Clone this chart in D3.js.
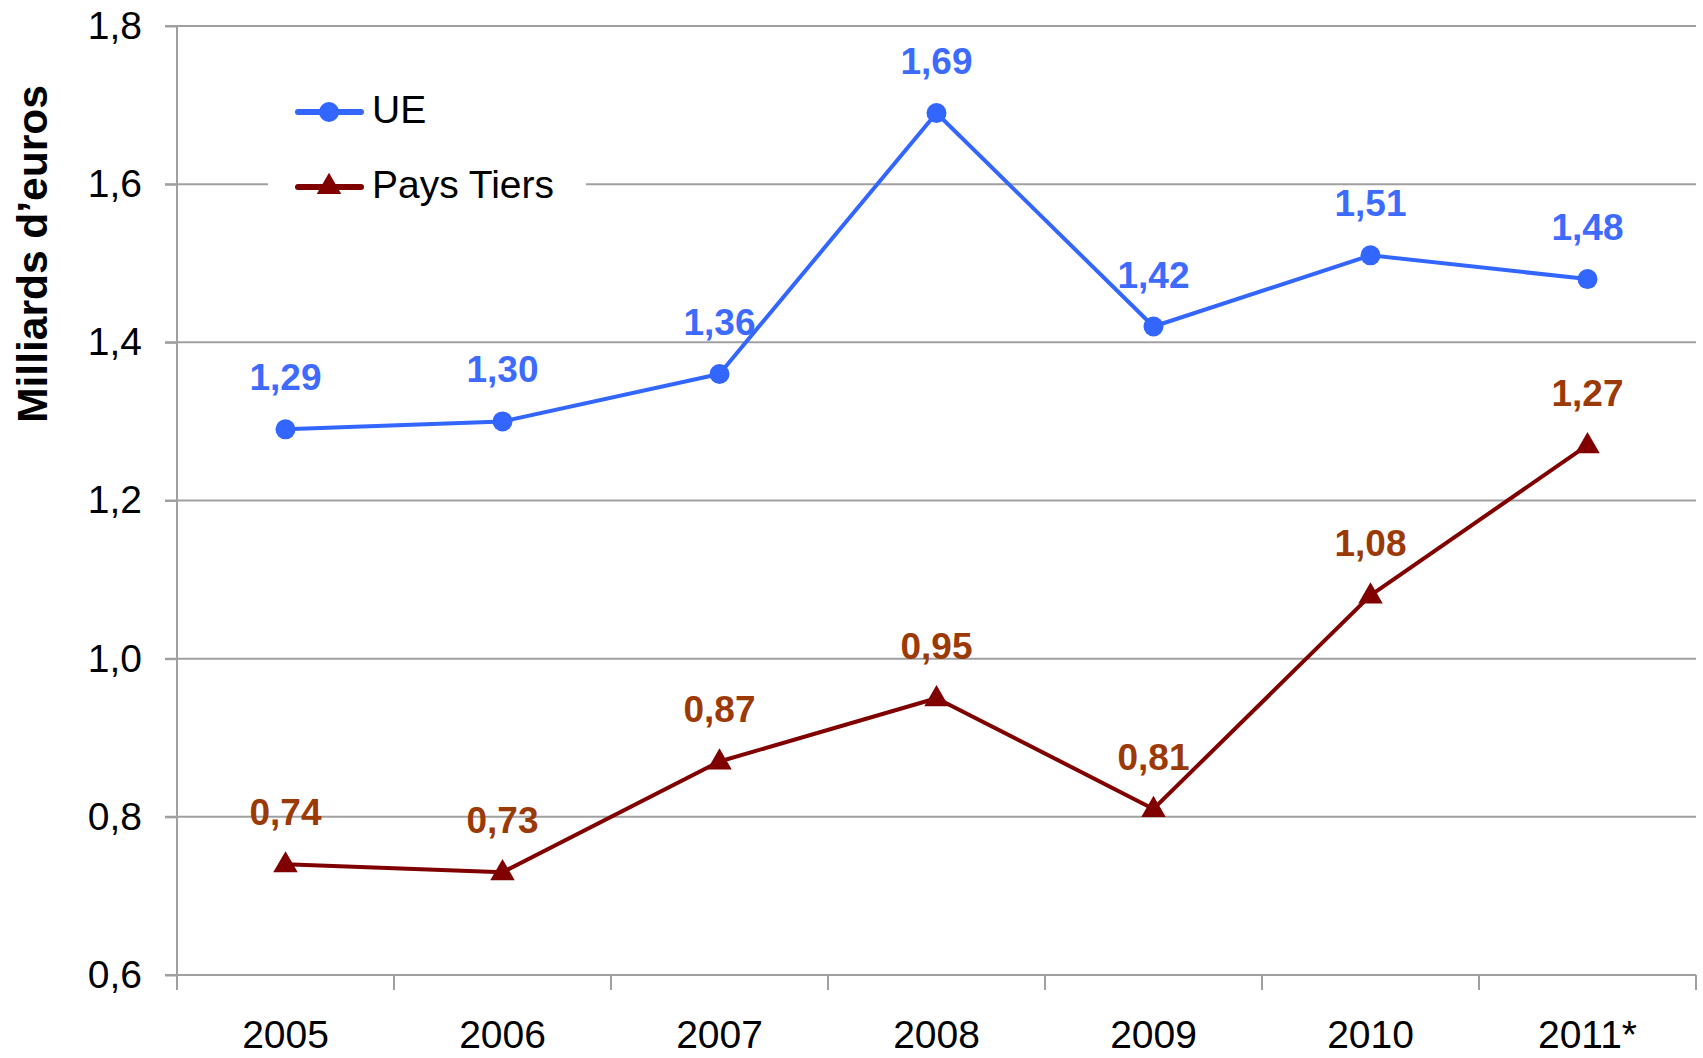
<!DOCTYPE html>
<html>
<head>
<meta charset="utf-8">
<script src="https://cdn.jsdelivr.net/npm/d3@7"></script>
<style>
  html, body { margin: 0; padding: 0; background: #ffffff; }
  svg { display: block; font-family: "Liberation Sans", Arial, sans-serif; }
</style>
</head>
<body>
<svg id="chart" width="1703" height="1058"></svg>
<script>
// Years on the category axis
const years = ["2005", "2006", "2007", "2008", "2009", "2010", "2011*"];
// Values in billions of euros
const ueValues = [1.29, 1.30, 1.36, 1.69, 1.42, 1.51, 1.48];
const tiersValues = [0.74, 0.73, 0.87, 0.95, 0.81, 1.08, 1.27];
const yTicks = [0.6, 0.8, 1.0, 1.2, 1.4, 1.6, 1.8];
const seriesNames = ["UE", "Pays Tiers"];

const fmt = v => v.toFixed(2).replace(".", ",");
const fmtTick = v => v.toFixed(1).replace(".", ",");

const svg = d3.select("#chart");
const plotLeft = 177, plotRight = 1696, plotTop = 26, plotBottom = 975;

const x = d3.scaleBand().domain(years).range([plotLeft, plotRight]).padding(0);
const y = d3.scaleLinear().domain([0.6, 1.8]).range([plotBottom, plotTop]);

const gridColor = "#a0a0a0";
const blue = "#3366ff", blueText = "#3d6bff";
const maroon = "#800000", maroonText = "#9b3a06";

// Horizontal gridlines
svg.append("g")
  .selectAll("line")
  .data(yTicks)
  .join("line")
  .attr("x1", plotLeft - 12).attr("x2", plotRight)
  .attr("y1", d => y(d)).attr("y2", d => y(d))
  .attr("stroke", gridColor).attr("stroke-width", 2);

// Y axis
const yAxis = svg.append("g")
  .attr("transform", `translate(${plotLeft},0)`)
  .call(d3.axisLeft(y).tickValues(yTicks).tickFormat(fmtTick).tickSize(12).tickPadding(23));
yAxis.select(".domain").remove();
yAxis.selectAll(".tick line").attr("stroke", gridColor).attr("stroke-width", 2);
yAxis.selectAll(".tick text")
  .attr("fill", "#000").attr("font-size", 39)
  .attr("font-family", "'Liberation Sans', Arial, sans-serif");
svg.append("line")
  .attr("x1", plotLeft).attr("x2", plotLeft)
  .attr("y1", plotTop).attr("y2", plotBottom + 15)
  .attr("stroke", gridColor).attr("stroke-width", 2);

// X axis: boundary ticks between categories, labels at band centres
const boundaries = years.map(d => x(d)).concat([x(years[years.length - 1]) + x.bandwidth()]);
svg.append("g")
  .selectAll("line")
  .data(boundaries)
  .join("line")
  .attr("x1", d => d).attr("x2", d => d)
  .attr("y1", plotBottom).attr("y2", plotBottom + 15)
  .attr("stroke", gridColor).attr("stroke-width", 2);

const xAxis = svg.append("g")
  .attr("transform", `translate(0,${plotBottom})`)
  .call(d3.axisBottom(x).tickSize(0).tickPadding(0));
xAxis.select(".domain").remove();
xAxis.selectAll(".tick text")
  .attr("fill", "#000").attr("font-size", 39)
  .attr("font-family", "'Liberation Sans', Arial, sans-serif")
  .attr("dy", null)
  .attr("y", 73);

// Y axis title
svg.append("text")
  .attr("transform", `translate(47,254) rotate(-90)`)
  .attr("text-anchor", "middle")
  .attr("font-size", 42.5).attr("font-weight", "bold")
  .attr("fill", "#000")
  .text("Milliards d\u2019euros");

const cx = d => x(d) + x.bandwidth() / 2;
const line = d3.line().x(d => cx(d.year)).y(d => y(d.value));
const toPts = vals => years.map((yr, i) => ({ year: yr, value: vals[i] }));

const triangle = d3.symbol().type(d3.symbolTriangle).size(260);

function drawSeries(vals, color, textColor, marker) {
  const pts = toPts(vals);
  const g = svg.append("g");
  g.append("path").datum(pts)
    .attr("d", line)
    .attr("fill", "none").attr("stroke", color)
    .attr("stroke-width", 4).attr("stroke-linejoin", "round");
  if (marker === "circle") {
    g.selectAll("circle").data(pts).join("circle")
      .attr("cx", d => cx(d.year)).attr("cy", d => y(d.value))
      .attr("r", 10).attr("fill", color);
  } else {
    g.selectAll("path.mk").data(pts).join("path")
      .attr("class", "mk")
      .attr("transform", d => `translate(${cx(d.year)},${y(d.value) + 1})`)
      .attr("d", triangle).attr("fill", color);
  }
  g.selectAll("text").data(pts).join("text")
    .attr("x", d => cx(d.year)).attr("y", d => y(d.value) - 39)
    .attr("text-anchor", "middle")
    .attr("font-size", 37).attr("font-weight", "bold")
    .attr("fill", textColor)
    .text(d => fmt(d.value));
}

drawSeries(ueValues, blue, blueText, "circle");
drawSeries(tiersValues, maroon, maroonText, "triangle");

// Legend
const legend = svg.append("g");
legend.append("rect")
  .attr("x", 268).attr("y", 78).attr("width", 318).attr("height", 136)
  .attr("fill", "#fff");
const legendItems = [
  { name: seriesNames[0], color: blue, marker: "circle", y: 112 },
  { name: seriesNames[1], color: maroon, marker: "triangle", y: 187 }
];
legendItems.forEach(it => {
  legend.append("line")
    .attr("x1", 298).attr("x2", 361)
    .attr("y1", it.y).attr("y2", it.y)
    .attr("stroke", it.color).attr("stroke-width", 6)
    .attr("stroke-linecap", "round");
  if (it.marker === "circle") {
    legend.append("circle").attr("cx", 329).attr("cy", it.y).attr("r", 10).attr("fill", it.color);
  } else {
    legend.append("path").attr("transform", `translate(329,${it.y})`)
      .attr("d", triangle).attr("fill", it.color);
  }
  legend.append("text")
    .attr("x", 372).attr("y", it.y + 11)
    .attr("font-size", 39).attr("fill", "#000")
    .text(it.name);
});
</script>
</body>
</html>
